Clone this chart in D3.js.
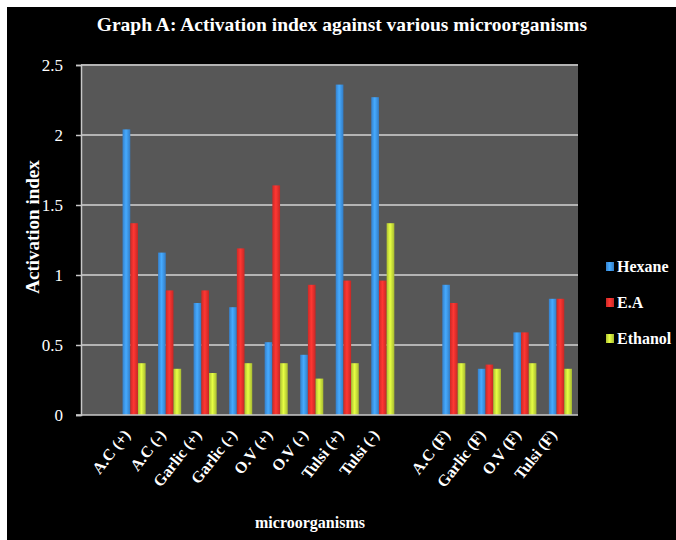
<!DOCTYPE html>
<html>
<head>
<meta charset="utf-8">
<script src="https://cdn.jsdelivr.net/npm/d3@7"></script>
<style>
  body { margin: 0; background: #fff; }
  text { font-family: "Liberation Serif", "DejaVu Serif", serif; font-weight: bold; fill: #fff; }
</style>
</head>
<body>
<div class="canvas"></div>
<script>
// categories, '' = empty slot like in the original sheet
const categories = ['', 'A.C (+)', 'A.C (-)', 'Garlic (+)', 'Garlic (-)', 'O.V (+)', 'O.V (-)', 'Tulsi (+)', 'Tulsi (-)',
  ' ', 'A.C (F)', 'Garlic (F)', 'O.V (F)', 'Tulsi (F)'];
const series = ['Hexane', 'E.A', 'Ethanol'];
const hexane  = [null, 2.04, 1.16, 0.80, 0.77, 0.52, 0.43, 2.36, 2.27, null, 0.93, 0.33, 0.59, 0.83];
const ea      = [null, 1.37, 0.89, 0.89, 1.19, 1.64, 0.93, 0.96, 0.96, null, 0.80, 0.36, 0.59, 0.83];
const ethanol = [null, 0.37, 0.33, 0.30, 0.37, 0.37, 0.26, 0.37, 1.37, null, 0.37, 0.33, 0.37, 0.33];
const yTicks = [0, 0.5, 1, 1.5, 2, 2.5];

const colors = ['#3d94ea', '#ea302c', '#c8de3a'];

const W = 676, H = 540;
const plot = { left: 81, right: 578, top: 65, bottom: 415 };

const svg = d3.select('.canvas')
  .append('svg')
    .attr('width', W)
    .attr('height', H);

// white frame + black background
svg.append('rect').attr('width', W).attr('height', H).attr('fill', '#fff');
svg.append('rect').attr('x', 7).attr('y', 7).attr('width', W - 7).attr('height', H - 7).attr('fill', '#000');

const defs = svg.append('defs');
colors.forEach((c, i) => {
  const g = defs.append('linearGradient').attr('id', 'g' + i).attr('x1', 0).attr('x2', 1).attr('y1', 0).attr('y2', 0);
  g.append('stop').attr('offset', '0%').attr('stop-color', d3.color(c).darker(0.4));
  g.append('stop').attr('offset', '45%').attr('stop-color', d3.color(c).brighter(0.4));
  g.append('stop').attr('offset', '100%').attr('stop-color', d3.color(c).darker(0.5));
});

const x = d3.scaleBand()
  .domain(categories)
  .range([plot.left, plot.right])
  .paddingInner(0.35)
  .paddingOuter(0.17);

const x1 = d3.scaleBand()
  .domain(series)
  .range([0, x.bandwidth()]);

const y = d3.scaleLinear()
  .domain([0, 2.5])
  .range([plot.bottom, plot.top]);

// plot area
svg.append('rect')
  .attr('x', plot.left).attr('y', plot.top)
  .attr('width', plot.right - plot.left).attr('height', plot.bottom - plot.top)
  .attr('fill', '#575757');

// gridlines
svg.append('g')
  .selectAll('line')
  .data(yTicks.slice(1))
  .enter()
  .append('line')
    .attr('x1', plot.left).attr('x2', plot.right)
    .attr('y1', d => y(d)).attr('y2', d => y(d))
    .attr('stroke', '#b4b4b4')
    .attr('stroke-width', 2);

// bars
const data = [hexane, ea, ethanol];
data.forEach((vals, si) => {
  svg.append('g')
    .selectAll('rect')
    .data(categories.map((c, i) => ({ c, v: vals[i] })).filter(d => d.v != null))
    .enter()
    .append('rect')
      .attr('x', d => x(d.c) + x1(series[si]))
      .attr('y', d => y(d.v))
      .attr('width', x1.bandwidth())
      .attr('height', d => y(0) - y(d.v))
      .attr('fill', 'url(#g' + si + ')');
});

// y axis
const yAxis = svg.append('g')
  .attr('transform', `translate(${plot.left},0)`)
  .call(d3.axisLeft(y).tickValues(yTicks).tickFormat(d3.format('')).tickSize(5).tickPadding(13));
yAxis.attr('font-family', null);
yAxis.select('.domain').attr('stroke', '#c8c8c8').attr('stroke-width', 1.5);
yAxis.selectAll('line').attr('stroke', '#c8c8c8').attr('stroke-width', 1.5);
yAxis.selectAll('text')
  .style('font-family', '"Liberation Serif", serif')
  .style('font-size', '17px')
  .style('font-weight', 'normal')
  .attr('fill', '#fff');

// x axis
svg.append('line')
  .attr('x1', plot.left - 5).attr('x2', plot.right)
  .attr('y1', plot.bottom).attr('y2', plot.bottom)
  .attr('stroke', '#c8c8c8').attr('stroke-width', 1.5);

svg.append('g')
  .selectAll('text')
  .data(categories.filter(c => c.trim() !== ''))
  .enter()
  .append('text')
    .attr('transform', d => `translate(${x(d) + x.bandwidth() / 2 - 3},${plot.bottom + 20}) rotate(-52)`)
    .attr('text-anchor', 'end')
    .style('font-size', '16px')
    .text(d => d);

// titles
svg.append('text')
  .attr('x', 342).attr('y', 31)
  .attr('text-anchor', 'middle')
  .style('font-size', '19.5px')
  .text('Graph A: Activation index against various microorganisms');

svg.append('text')
  .attr('transform', `translate(39,227) rotate(-90)`)
  .attr('text-anchor', 'middle')
  .style('font-size', '19px')
  .text('Activation index');

svg.append('text')
  .attr('x', 310).attr('y', 528)
  .attr('text-anchor', 'middle')
  .style('font-size', '16px')
  .text('microorganisms');

// legend
const legend = svg.append('g')
  .selectAll('g')
  .data(series)
  .enter()
  .append('g')
    .attr('transform', (d, i) => `translate(606,${267 + i * 36})`);
legend.append('rect')
  .attr('x', 0).attr('y', -5)
  .attr('width', 8).attr('height', 9)
  .attr('fill', (d, i) => 'url(#g' + i + ')');
legend.append('text')
  .attr('x', 11).attr('y', 5)
  .style('font-size', '16px')
  .text(d => d);
</script>
</body>
</html>
